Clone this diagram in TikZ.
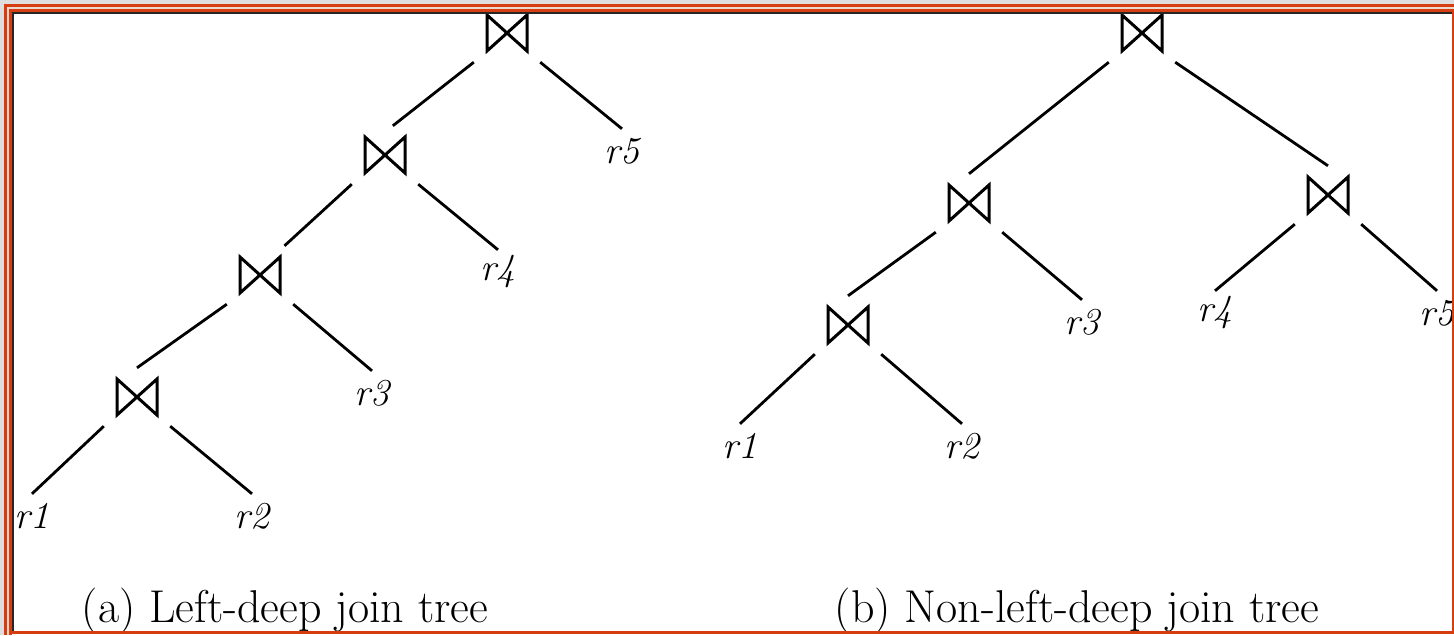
\documentclass[tikz,border=0pt]{standalone}
\usepackage{tikz}
\usetikzlibrary{positioning}

\definecolor{frameorange}{RGB}{214,62,18}
\definecolor{framegray}{RGB}{222,222,222}
\definecolor{framepale}{RGB}{236,216,206}

\begin{document}
\begin{tikzpicture}[x=1pt, y=-1pt,
    joinop/.style={minimum width=66pt, minimum height=58pt, inner sep=0pt,
      path picture={\draw[line width=3pt, line join=miter]
        ([shift={(-20pt,18pt)}]path picture bounding box.center)
        -- ([shift={(-20pt,-18pt)}]path picture bounding box.center)
        -- ([shift={(20pt,18pt)}]path picture bounding box.center)
        -- ([shift={(20pt,-18pt)}]path picture bounding box.center) -- cycle;}},
    leaf/.style={inner sep=0pt, minimum width=50pt, minimum height=44pt,
      font=\fontsize{38}{40}\selectfont\itshape},
    captxt/.style={anchor=base, inner sep=0pt, font=\fontsize{46}{50}\selectfont},
    branch/.style={line width=2.8pt}]
    \useasboundingbox (0,0) rectangle (1454,635);
    \fill[white] (0,0) rectangle (1454,635);

    % (a) left-deep tree
    \node[joinop] (a1) at (507,33) {};
    \node[joinop] (a2) at (385,155) {};
    \node[joinop] (a3) at (260,275) {};
    \node[joinop] (a4) at (137,397) {};
    \node[leaf] (ar5) at (622,151) {r5};
    \node[leaf] (ar4) at (498,272) {r4};
    \node[leaf] (ar3) at (372,393) {r3};
    \node[leaf] (ar2) at (252,516) {r2};
    \node[leaf] (ar1) at (32,516) {r1};
    \foreach \f/\t in {a1.south west/a2.75, a1.south east/ar5.north,
                       a2.south west/a3.50, a2.south east/ar4.north,
                       a3.south west/a4.north, a3.south east/ar3.north,
                       a4.south west/ar1.north, a4.south east/ar2.north}
        \draw[branch] (\f) -- (\t);
    \node[captxt] (capa) at (285,622) {(a) Left-deep join tree};

    % (b) non-left-deep tree
    \node[joinop] (b1) at (1142,33) {};
    \node[joinop] (b2) at (969,203) {};
    \node[joinop] (b3) at (1328,195) {};
    \node[joinop] (b4) at (848,325) {};
    \node[leaf] (br1) at (740,446) {r1};
    \node[leaf] (br2) at (962,446) {r2};
    \node[leaf] (br3) at (1082,322) {r3};
    \node[leaf] (br4) at (1215,313) {r4};
    \node[leaf] (br5) at (1437,313) {r5};
    \foreach \f/\t in {b1.south west/b2.north, b1.south east/b3.north,
                       b2.south west/b4.north, b2.south east/br3.north,
                       b3.south west/br4.north, b3.south east/br5.north,
                       b4.south west/br1.north, b4.south east/br2.north}
        \draw[branch] (\f) -- (\t);
    \node[captxt] (capb) at (1077,622) {(b) Non-left-deep join tree};

    % window frame
    \fill[framegray] (0,0) rectangle (1454,4);
    \fill[framegray] (0,0) rectangle (4,635);
    \fill[frameorange] (4,4) rectangle (1454,7);
    \fill[frameorange] (4,4) rectangle (7,635);
    \fill[framepale] (7,7) rectangle (1454,9);
    \fill[framepale] (7,7) rectangle (9,635);
    \fill[frameorange] (9,9) rectangle (1454,11.5);
    \fill[frameorange] (9,9) rectangle (11.5,635);
    \fill[frameorange] (1451.5,9) rectangle (1453.5,633.5);
    \fill[frameorange] (9,631) rectangle (1453.5,633.5);
    \fill[black!85] (11.5,11.5) rectangle (1451.5,14);
    \fill[black!85] (11.5,11.5) rectangle (14,631);
\end{tikzpicture}
\end{document}
